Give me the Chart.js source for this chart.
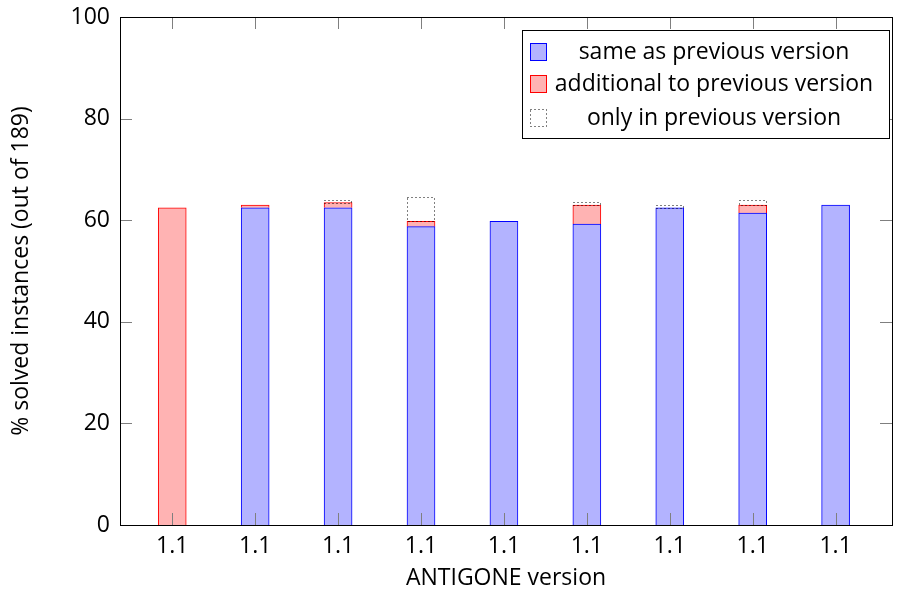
<!DOCTYPE html>
<html>
<head>
<meta charset="utf-8">
<script src="https://cdn.jsdelivr.net/npm/chart.js@4/dist/chart.umd.min.js"></script>
<style>
  html, body { margin: 0; padding: 0; background: #fff; }
  #wrap { width: 905px; height: 592px; }
</style>
</head>
<body>
<div id="wrap"><canvas id="grafico" width="905" height="592"></canvas></div>
<script>
// versões do ANTIGONE (eixo x) e % de instâncias resolvidas (de 189)
const versoes = ['1.1', '1.1', '1.1', '1.1', '1.1', '1.1', '1.1', '1.1', '1.1'];
const posicoes = [1, 2, 3, 4, 5, 6, 7, 8, 9];
const mesmoAnterior = [0, 62.43, 62.43, 58.73, 59.79, 59.26, 62.43, 61.38, 62.96];
const adicionalAnterior = [62.43, 0.53, 1.06, 1.06, 0, 3.70, 0, 1.59, 0];
const soNoAnterior = [0, 0, 0.53, 4.76, 0, 0.53, 0.53, 1.06, 0];
const yTicks = [0, 20, 40, 60, 80, 100];
const legendas = ['same as previous version', 'additional to previous version', 'only in previous version'];

const FONTE = "'Open Sans', sans-serif";
const TAM = 23;
const AZUL = '#0000ff', AZUL_F = '#b3b3ff';
const VERM = '#ff0000', VERM_F = '#ffb3b3';

function pontos(vals) {
    return vals.map((v, i) => ({ x: posicoes[i], y: v }));
}

// moldura estilo pgfplots: caixa, ticks para dentro, caixas pontilhadas e legenda
const molduraPgf = {
    id: 'molduraPgf',
    afterDatasetsDraw(chart) {
        const ctx = chart.ctx;
        const meta = chart.getDatasetMeta(2);
        ctx.save();
        ctx.strokeStyle = '#000';
        ctx.lineWidth = 1;
        ctx.setLineDash([1, 3]);
        meta.data.forEach((el, i) => {
            if (!soNoAnterior[i]) return;
            const p = el.getProps(['x', 'y', 'base', 'width'], true);
            ctx.strokeRect(Math.round(p.x - p.width / 2) + 0.5, Math.round(p.y) + 0.5, Math.round(p.width) - 1, Math.round(p.base - p.y));
        });
        ctx.restore();
    },
    afterDraw(chart) {
        const ctx = chart.ctx;
        const a = chart.chartArea;
        const sx = chart.scales.x, sy = chart.scales.y;
        ctx.save();
        ctx.strokeStyle = '#7f7f7f';
        ctx.lineWidth = 1;
        ctx.beginPath();
        yTicks.forEach(v => {
            const y = Math.round(sy.getPixelForValue(v)) + 0.5;
            ctx.moveTo(a.left, y); ctx.lineTo(a.left + 12, y);
            ctx.moveTo(a.right, y); ctx.lineTo(a.right - 12, y);
        });
        posicoes.forEach(v => {
            const x = Math.round(sx.getPixelForValue(v)) + 0.5;
            ctx.moveTo(x, a.top); ctx.lineTo(x, a.top + 12);
            ctx.moveTo(x, a.bottom); ctx.lineTo(x, a.bottom - 12);
        });
        ctx.stroke();
        ctx.strokeStyle = '#000';
        ctx.strokeRect(Math.round(a.left) + 0.5, Math.round(a.top) + 0.5, Math.round(a.right - a.left), Math.round(a.bottom - a.top));

        // legenda
        const bx = 522.5, by = 30.5, bw = 367, bh = 108;
        ctx.fillStyle = '#fff';
        ctx.fillRect(bx, by, bw, bh);
        ctx.strokeStyle = '#000';
        ctx.strokeRect(bx, by, bw, bh);
        const linhas = [51, 83, 117];
        const cores = [[AZUL, AZUL_F], [VERM, VERM_F], null];
        linhas.forEach((ly, i) => {
            const sxw = 530.5, sw = 16, sh = 17, syy = Math.round(ly - sh / 2) + 0.5;
            if (cores[i]) {
                ctx.fillStyle = cores[i][1];
                ctx.fillRect(sxw, syy, sw, sh);
                ctx.strokeStyle = cores[i][0];
                ctx.setLineDash([]);
            } else {
                ctx.strokeStyle = '#000';
                ctx.setLineDash([1, 3]);
            }
            ctx.strokeRect(sxw, syy, sw, sh);
            ctx.setLineDash([]);
            ctx.fillStyle = '#000';
            ctx.font = TAM + 'px ' + FONTE;
            ctx.textAlign = 'center';
            ctx.textBaseline = 'middle';
            ctx.fillText(legendas[i], 714, ly + 1);
        });
        ctx.restore();
    }
};

new Chart(document.getElementById('grafico'), {
    type: 'bar',
    data: {
        datasets: [
            { label: legendas[0], data: pontos(mesmoAnterior), backgroundColor: AZUL_F, borderColor: AZUL, borderWidth: 1, barThickness: 28 },
            { label: legendas[1], data: pontos(adicionalAnterior), backgroundColor: VERM_F, borderColor: VERM, borderWidth: 1, barThickness: 28 },
            { label: legendas[2], data: pontos(soNoAnterior), backgroundColor: 'rgba(0,0,0,0)', borderWidth: 0, barThickness: 28 }
        ]
    },
    options: {
        responsive: false,
        animation: false,
        layout: { padding: { left: 0, right: 13, top: 17, bottom: 0 } },
        plugins: { legend: { display: false }, tooltip: { enabled: false } },
        scales: {
            x: {
                type: 'linear',
                offset: false,
                stacked: true,
                min: 0.37,
                max: 9.68,
                afterBuildTicks: s => { s.ticks = posicoes.map(v => ({ value: v })); },
                afterFit: s => { s.height = 67; s.paddingLeft = 0; s.paddingRight = 0; },
                grid: { display: false, drawTicks: false },
                border: { display: false },
                ticks: {
                    color: '#000', padding: 8, maxRotation: 0, autoSkip: false,
                    font: { family: FONTE, size: TAM },
                    callback: (v, i) => versoes[i]
                },
                title: { display: true, text: 'ANTIGONE version', color: '#000', font: { family: FONTE, size: TAM }, padding: { top: 0, bottom: 0 } }
            },
            y: {
                stacked: true,
                min: 0,
                max: 100,
                afterBuildTicks: s => { s.ticks = yTicks.map(v => ({ value: v })); },
                afterFit: s => { s.width = 120; s.paddingTop = 0; s.paddingBottom = 0; },
                grid: { display: false, drawTicks: false },
                border: { display: false },
                ticks: { color: '#000', padding: 10, font: { family: FONTE, size: TAM } },
                title: { display: true, text: '% solved instances (out of 189)', color: '#000', font: { family: FONTE, size: TAM }, padding: { top: 8, bottom: 0 } }
            }
        }
    },
    plugins: [molduraPgf]
});
</script>
</body>
</html>
